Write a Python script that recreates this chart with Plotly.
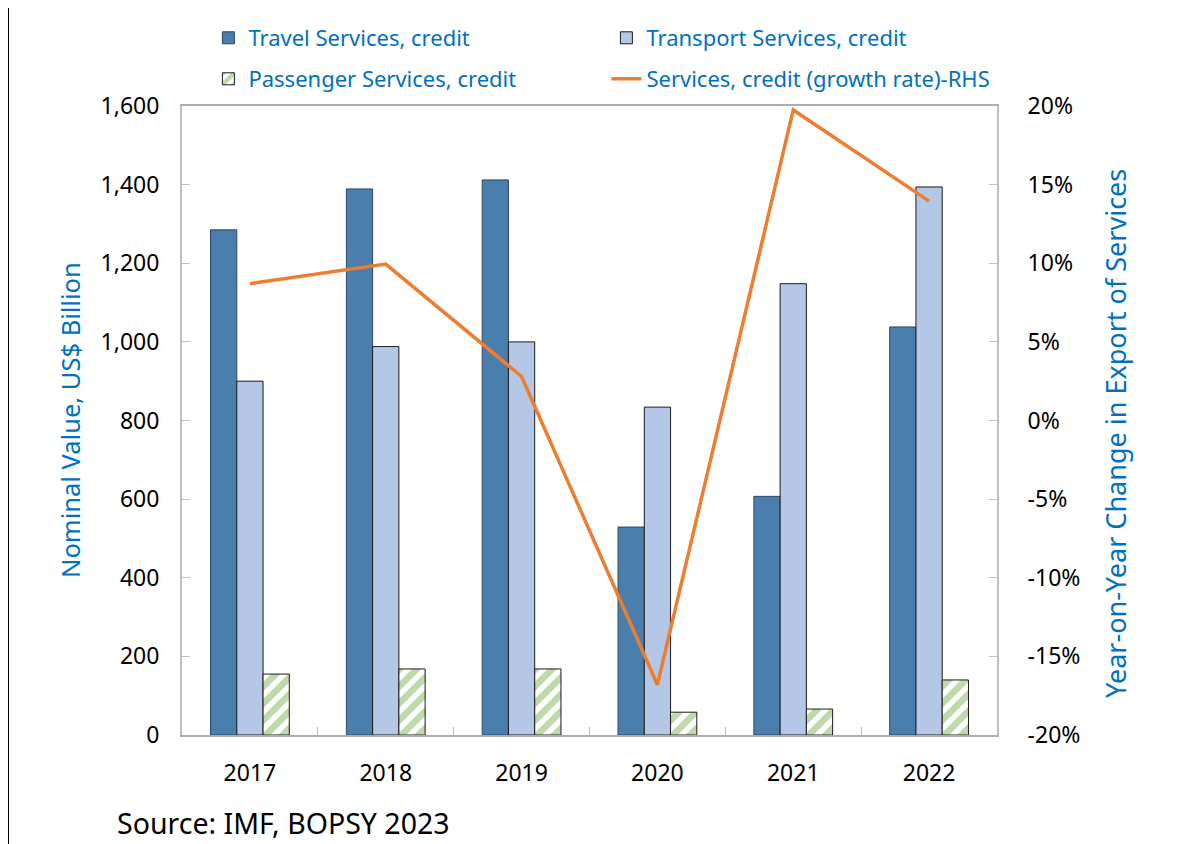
import plotly.graph_objects as go
from plotly.subplots import make_subplots

years = ["2017", "2018", "2019", "2020", "2021", "2022"]
travel = [1285, 1389, 1412, 529, 607, 1038]
transport = [900, 988, 1000, 834, 1148, 1394]
passenger = [155, 168, 168, 58, 66, 140]
growth = [0.087, 0.0995, 0.028, -0.168, 0.1975, 0.1395]

rhs_tickvals = [-0.20, -0.15, -0.10, -0.05, 0.0, 0.05, 0.10, 0.15, 0.20]
rhs_ticktext = ["-20%", "-15%", "-10%", "-5%", "0%", "5%", "10%", "15%", "20%"]

FONT = "Noto Sans"
BLUE_TXT = "#0070C0"

# figure geometry (page body adds 8px offset)
W, H = 1187, 836
ML, MR, MT, MB = 174, 198, 98, 109
PW, PH = W - ML - MR, H - MT - MB

def px(xf):
    return (xf - ML) / PW

def py(yf):
    return (H - MB - yf) / PH

fig = make_subplots(specs=[[{"secondary_y": True}]])

fig.add_trace(go.Bar(x=years, y=travel, name="Travel Services, credit",
                     marker=dict(color="#4A7EAD", line=dict(color="#2C4763", width=1)),
                     legend="legend"), secondary_y=False)
fig.add_trace(go.Bar(x=years, y=transport, name="Transport Services, credit",
                     marker=dict(color="#B4C7E7", line=dict(color="#1A1A1A", width=1)),
                     legend="legend"), secondary_y=False)
fig.add_trace(go.Bar(x=years, y=passenger, name="Passenger Services, credit",
                     marker=dict(color="white", line=dict(color="#1A1A1A", width=1),
                                 pattern=dict(shape="/", fgcolor="#7FB356", bgcolor="white",
                                              size=12, solidity=0.55)),
                     legend="legend2"), secondary_y=False)
fig.add_trace(go.Scatter(x=years, y=growth, name="Services, credit (growth rate)-RHS",
                         mode="lines", line=dict(color="#ED7D31", width=3.5),
                         legend="legend2"), secondary_y=True)

legend_common = dict(orientation="h", xanchor="left", yanchor="middle",
                     font=dict(family=FONT, size=22, color=BLUE_TXT),
                     entrywidth=353, entrywidthmode="pixels",
                     bgcolor="rgba(0,0,0,0)", traceorder="normal")

fig.update_layout(
    width=W, height=H,
    margin=dict(l=ML, r=MR, t=MT, b=MB, autoexpand=False),
    paper_bgcolor="white", plot_bgcolor="white",
    barmode="group", bargap=0.42, bargroupgap=0,
    font=dict(family=FONT, size=23, color="#000000"),
    legend=dict(x=px(200.4), y=py(30), **legend_common),
    legend2=dict(x=px(200.4), y=py(71), **legend_common),
    showlegend=True,
)

fig.update_xaxes(domain=[0, 1], showline=True, linecolor="#ADADAD", linewidth=2, mirror=True,
                 ticks="inside", tickson="boundaries", ticklen=8, tickcolor="#BFBFBF",
                 showgrid=False, tickfont=dict(family=FONT, size=23, color="#000"),
                 ticklabelstandoff=16)
fig.update_yaxes(range=[0, 1600], dtick=200, tickformat=",", showgrid=False,
                 showline=True, linecolor="#BFBFBF", linewidth=2, mirror=True,
                 ticks="inside", ticklen=8, tickcolor="#BFBFBF",
                 tickfont=dict(family=FONT, size=23, color="#000"),
                 ticklabelstandoff=16, zeroline=False, secondary_y=False)
fig.update_yaxes(range=[-0.2, 0.2], tickmode="array", tickvals=rhs_tickvals, ticktext=rhs_ticktext,
                 showgrid=False, showline=True, linecolor="#BFBFBF", linewidth=2,
                 ticks="inside", ticklen=8, tickcolor="#BFBFBF",
                 tickfont=dict(family=FONT, size=23, color="#000"),
                 ticklabelstandoff=24, zeroline=False, secondary_y=True)

fig.add_annotation(text="Nominal Value, US$ Billion", textangle=-90,
                   xref="paper", yref="paper", x=px(62), y=py(412), xanchor="center", yanchor="middle",
                   showarrow=False, font=dict(family=FONT, size=25.5, color=BLUE_TXT))
fig.add_annotation(text="Year-on-Year Change in Export of Services", textangle=-90,
                   xref="paper", yref="paper", x=px(1107), y=py(426), xanchor="center", yanchor="middle",
                   showarrow=False, font=dict(family=FONT, size=27, color=BLUE_TXT))
fig.add_annotation(text="Source: IMF, BOPSY 2023", xref="paper", yref="paper",
                   x=px(108), y=py(815), xanchor="left", yanchor="middle", borderpad=0,
                   showarrow=False, font=dict(family=FONT, size=28.5, color="#000"))

fig.add_shape(type="line", xref="paper", yref="paper",
              x0=px(0), x1=px(0), y0=py(-10), y1=py(H + 10),
              line=dict(color="#000000", width=2))

fig.write_html("out.html")
